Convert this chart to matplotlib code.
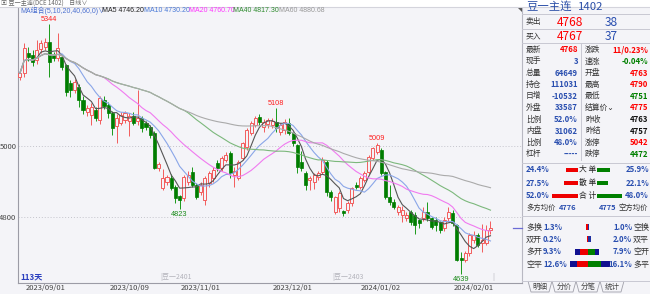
import numpy as np
import pandas as pd
import matplotlib
matplotlib.use('Agg')
import matplotlib.pyplot as plt
from matplotlib.patches import Rectangle, Polygon
from matplotlib.lines import Line2D

plt.rcParams['font.family'] = ['Noto Sans CJK SC', 'DejaVu Sans']
NARROW = ['Liberation Sans', 'Noto Sans CJK SC', 'DejaVu Sans']

# daily candles, 2023/08/24 .. 2024/02/07 (113 days)
opens = [5194, 5206, 5262, 5256, 5242, 5273, 5279, 5293, 5256, 5248,
         5251, 5228, 5178, 5158, 5166, 5130, 5096, 5087, 5101, 5073,
         5130, 5116, 5093, 5056, 5065, 5073, 5070, 5085, 5070, 5079,
         5065, 5054, 5037, 4938, 4882, 4899, 4910, 4885, 4859, 4854,
         4899, 4927, 4890, 4870, 4848, 4896, 4910, 4952, 4938, 4961,
         4980, 4918, 4910, 4966, 4997, 5037, 5059, 5082, 5054, 5062,
         5059, 5068, 5039, 5045, 5065, 5037, 5003, 4955, 4924, 4904,
         4899, 4913, 4927, 4955, 4870, 4814, 4825, 4817, 4820, 4839,
         4890, 4885, 4904, 4927, 4966, 4983, 4989, 4927, 4856, 4842,
         4814, 4806, 4797, 4814, 4806, 4792, 4797, 4814, 4797, 4792,
         4786, 4769, 4797, 4811, 4778, 4684, 4679, 4699, 4735, 4749,
         4727, 4727, 4763]
closes = [5206, 5276, 5251, 5237, 5270, 5290, 5293, 5237, 5248, 5276,
          5223, 5152, 5158, 5180, 5130, 5101, 5107, 5110, 5079, 5135,
          5113, 5093, 5051, 5079, 5087, 5093, 5085, 5065, 5079, 5051,
          5054, 5031, 4938, 4949, 4910, 4913, 4882, 4854, 4848, 4913,
          4918, 4890, 4856, 4890, 4910, 4924, 4932, 4938, 4966, 4975,
          4924, 4930, 4955, 5008, 5045, 5065, 5079, 5068, 5068, 5073,
          5070, 5051, 5059, 5068, 5037, 5008, 4941, 4938, 4890, 4910,
          4918, 4924, 4961, 4870, 4856, 4856, 4868, 4811, 4839, 4882,
          4885, 4910, 4924, 4969, 4994, 5003, 4924, 4856, 4842, 4828,
          4828, 4820, 4806, 4786, 4778, 4783, 4814, 4797, 4772, 4778,
          4763, 4792, 4814, 4783, 4679, 4679, 4699, 4749, 4749, 4721,
          4735, 4763, 4768]
highs = [5215, 5290, 5280, 5270, 5300, 5298, 5305, 5344, 5265, 5320,
         5258, 5232, 5185, 5190, 5175, 5140, 5115, 5120, 5110, 5140,
         5140, 5125, 5100, 5090, 5095, 5100, 5092, 5095, 5157, 5085,
         5070, 5060, 5042, 4955, 4935, 4918, 4920, 4890, 4862, 4918,
         4930, 4940, 4895, 4900, 4915, 4930, 4940, 4960, 4972, 4982,
         4985, 4940, 4960, 5012, 5050, 5070, 5085, 5090, 5075, 5080,
         5078, 5108, 5065, 5075, 5079, 5040, 5005, 4985, 4930, 4915,
         4925, 4930, 4970, 4960, 4875, 4860, 4872, 4820, 4845, 4886,
         4900, 4915, 4930, 4975, 4998, 5009, 4995, 4930, 4890, 4850,
         4835, 4832, 4815, 4820, 4815, 4795, 4828, 4842, 4800, 4800,
         4790, 4800, 4828, 4820, 4780, 4700, 4705, 4755, 4760, 4755,
         4780, 4778, 4790]
lows = [5185, 5195, 5240, 5225, 5232, 5262, 5270, 5195, 5240, 5240,
        5215, 5140, 5138, 5150, 5110, 5090, 5085, 5058, 5070, 5062,
        5105, 5080, 5031, 5010, 5058, 5065, 5028, 5058, 5060, 5040,
        5045, 5022, 4935, 4930, 4876, 4890, 4875, 4840, 4823, 4845,
        4890, 4885, 4850, 4862, 4835, 4885, 4900, 4930, 4930, 4955,
        4910, 4885, 4905, 4960, 4990, 5030, 5055, 5060, 5040, 5050,
        5050, 5040, 5030, 5035, 5030, 5000, 4925, 4930, 4875, 4876,
        4880, 4905, 4920, 4860, 4845, 4808, 4815, 4803, 4812, 4832,
        4878, 4880, 4898, 4920, 4960, 4978, 4918, 4850, 4835, 4822,
        4805, 4785, 4790, 4778, 4752, 4770, 4790, 4790, 4765, 4760,
        4755, 4760, 4790, 4775, 4675, 4639, 4672, 4690, 4728, 4715,
        4701, 4720, 4751]

tick_idx = [6, 26, 43, 65, 86, 108]
tick_labels = ['2023/09/01', '2023/10/09', '2023/11/01', '2023/12/01', '2024/01/02', '2024/02/01']
mark_hi = [7, 61, 85]
mark_lo = [38, 105]
roll_idx = [34, 75]
roll_names = ['豆一2401', '豆一2403']

ma_periods = [5, 10, 20, 40, 60]
ma_colors = ['#555555', '#8aa6e8', '#f07af0', '#7cb87c', '#aaaaaa']
legend_txt = ['MA组合(5,10,20,40,60,0)∨', 'MA5 4746.20', 'MA10 4730.20',
              'MA20 4760.70', 'MA40 4817.30', 'MA60 4880.68']
legend_col = ['#4a6fd0', '#222222', '#4a7ad8', '#ff33ff', '#2e8b2e', '#999999']
legend_x = [20, 102, 144, 189, 233, 279]

# quote panel
left_lab = ['最新', '现手', '总量', '持仓', '日增', '外盘', '比例', '内盘', '比例', '杠杆']
left_val = ['4768', '3', '64649', '111031', '-10532', '33587', '52.0%', '31062', '48.0%', '-----']
left_col = ['#ff0000'] + ['#2a4fb0'] * 9
right_lab = ['涨跌', '速涨', '开盘', '最高', '最低', '结算价⌄', '昨收', '昨结', '涨停', '跌停']
right_val = ['11/0.23%', '-0.04%', '4763', '4790', '4751', '4775', '4763', '4757', '5042', '4472']
right_col = ['#ff0000', '#008000', '#ff0000', '#ff0000', '#008000', '#ff0000',
             '#111111', '#111111', '#ff0000', '#008000']

order_lab = ['大 单', '散 单', '合 计']
order_buy = [24.4, 27.5, 52.0]
order_sell = [25.9, 22.1, 48.0]

pos_lab_l = ['多换', '双开', '多开', '空平']
pos_lab_r = ['空换', '双平', '空开', '多平']
pos_l = [1.3, 0.2, 9.3, 12.6]
pos_r = [1.0, 2.0, 7.9, 16.1]

tabs = ['明细', '分价', '分笔', '统计']

opens = np.array(opens, float)
closes = np.array(closes, float)
highs = np.array(highs, float)
lows = np.array(lows, float)
idx = np.arange(len(closes))

W, H = 650, 294
BG = '#f4f4f8'
fig = plt.figure(figsize=(6.5, 2.94), dpi=100, facecolor=BG)


def fx(x):
    return x / W


def fy(y):
    return 1 - y / H


def ptext(x, y, s, **kw):
    kw.setdefault('va', 'center')
    kw.setdefault('fontsize', 5.6)
    fig.text(fx(x), fy(y), s, **kw)


def pline(x0, y0, x1, y1, color='#c8c8d2', lw=0.7):
    fig.add_artist(Line2D([fx(x0), fx(x1)], [fy(y0), fy(y1)], transform=fig.transFigure,
                          color=color, lw=lw))


def prect(x, y, w, h, color):
    fig.add_artist(Rectangle((fx(x), fy(y + h)), w / W, h / H, transform=fig.transFigure,
                             facecolor=color, edgecolor='none'))


# top tool strip
prect(0, 0, 650, 6.5, '#ffffff')
pline(0, 6.8, 650, 6.8, '#d4d4dc', 0.8)
ptext(1, 3.3, '▣ 豆一主连(DCE 1402)    日线∨', color='#666666', fontsize=4.4)

# ---- main kline area
ax = fig.add_axes([fx(18), fy(283), fx(522) - fx(18), fy(7) - fy(283)])
ax.set_facecolor(BG)
ax.set_xlim(-0.47, 119.5)
ax.set_ylim(4614, 5392)

for lv in [5000, 4800]:
    ax.axhline(lv, color='#c4c4cc', lw=0.7, ls=(0, (1, 2)), zorder=0)

up = closes >= opens
red = '#f25c5c'
grn = '#007d00'
ax.vlines(idx[up], lows[up], highs[up], color=red, lw=0.7, zorder=2)
ax.vlines(idx[~up], lows[~up], highs[~up], color='#1a9a1a', lw=0.7, zorder=2)
body_lo = np.minimum(opens, closes)
body_h = np.maximum(np.abs(closes - opens), 1.5)
ax.bar(idx[up], body_h[up], bottom=body_lo[up], width=0.72, facecolor=BG,
       edgecolor=red, lw=0.7, zorder=3)
ax.bar(idx[~up], body_h[~up], bottom=body_lo[~up], width=0.72, facecolor=grn,
       edgecolor=grn, lw=0.5, zorder=3)

cs = pd.Series(closes)
for p, c in zip(ma_periods, ma_colors):
    ax.plot(idx, cs.rolling(p, min_periods=1).mean(), color=c, lw=0.8, zorder=4)

for i in mark_hi:
    ax.annotate(f'{int(highs[i])}', (i, highs[i]), xytext=(0, 0.8), textcoords='offset points',
                ha='center', va='bottom', color='#ff2020', fontsize=5.3, family=NARROW)
for i in mark_lo:
    ax.annotate(f'{int(lows[i])}', (i, lows[i]), xytext=(0, -1.2), textcoords='offset points',
                ha='center', va='top', color='#1a8a1a', fontsize=5.3, family=NARROW)

for i, nm in zip(roll_idx, roll_names):
    ax.text(i - 0.6, 4630, '|' + nm, color='#b4b4bc', fontsize=5.0, va='center', ha='left')
ax.text(len(closes) - 0.6, 4630, '|', color='#b4b4bc', fontsize=5.0, va='center', ha='left')
ax.text(0.0, 4632, '113天', color='#2a3fbf', fontsize=5.8, fontweight='bold', va='center')

# current price marker at the right edge
ax.plot([117.4, 119.5], [closes[-1], closes[-1]], color='#6b6bd6', lw=0.9, clip_on=False, zorder=5)

ax.set_yticks([4800, 5000])
ax.set_yticklabels(['4800', '5000'])
ax.set_xticks(tick_idx)
ax.set_xticklabels(tick_labels)
ax.tick_params(axis='both', length=0, labelsize=5.5, labelcolor='#444444')
ax.tick_params(axis='y', pad=1.2)
ax.tick_params(axis='x', pad=0.8)
ax.spines['top'].set_visible(False)
ax.spines['left'].set_color('#9c9ca6')
ax.spines['bottom'].set_color('#9c9ca6')
ax.spines['right'].set_color('#b8b8c2')
for sp in ax.spines.values():
    sp.set_linewidth(0.8)

for s, c, x in zip(legend_txt, legend_col, legend_x):
    ptext(x, 11, s, color=c, fontsize=5.0, family=NARROW)

# corner triangle
fig.add_artist(Polygon([(fx(518), fy(8)), (fx(522), fy(8)), (fx(522), fy(12))],
                       transform=fig.transFigure, facecolor='#555555', edgecolor='none'))

# ---- quote panel
ptext(526, 6.5, '豆一主连', color='#2b4fa8', fontsize=8.2)
ptext(578, 6.5, '1402', color='#2b4fa8', fontsize=8.2)
for y in [13.5, 29, 43, 163, 216, 280.5]:
    pline(522, y, 650, y)
pline(581, 43, 581, 160)

ptext(526, 22, '卖出', color='#333333')
ptext(583, 22, '4768', color='#ff0000', fontsize=8.6, ha='right')
ptext(605, 22, '38', color='#2a4fb0', fontsize=8.6)
ptext(526, 36, '买入', color='#333333')
ptext(583, 36, '4767', color='#ff0000', fontsize=8.6, ha='right')
ptext(605, 36, '37', color='#2a4fb0', fontsize=8.6)

for k in range(len(left_lab)):
    y = 50 + k * 11.6
    ptext(526, y, left_lab[k], color='#333333')
    ptext(578, y, left_val[k], color=left_col[k], ha='right', fontweight='bold')
    ptext(585, y, right_lab[k], color='#333333')
    ptext(648, y, right_val[k], color=right_col[k], ha='right', fontweight='bold')

# big / scatter orders
for k in range(3):
    y = 170 + k * 13
    ptext(526, y, f'{order_buy[k]:.1f}%', color='#2a4fb0', fontweight='bold')
    ptext(587.5, y, order_lab[k], color='#222222', ha='center')
    wb = order_buy[k] * 0.5
    ws = order_sell[k] * 0.52
    prect(578 - wb, y - 2.2, wb, 4.4, '#ee0000')
    prect(597, y - 2.2, ws, 4.4, '#008000')
    ptext(649, y, f'{order_sell[k]:.1f}%', color='#2a4fb0', ha='right', fontweight='bold')

ptext(526, 208, '多方均价', color='#333333', fontsize=5.3)
ptext(559, 208, '4776', color='#2a4fb0', fontweight='bold', fontsize=5.4)
ptext(616, 208, '4775', color='#2a4fb0', ha='right', fontweight='bold', fontsize=5.4)
ptext(618, 208, '空方均价', color='#333333', fontsize=5.3)

for k in range(4):
    y = 227 + k * 12.4
    ptext(526, y, pos_lab_l[k], color='#333333', fontsize=5.8)
    ptext(543, y, f'{pos_l[k]:.1f}%', color='#2a4fb0', fontweight='bold')
    ptext(632, y, f'{pos_r[k]:.1f}%', color='#2a4fb0', ha='right', fontweight='bold')
    ptext(633, y, pos_lab_r[k], color='#333333', fontsize=5.8)
    wl = max(pos_l[k] * 1.4, 1.2)
    wr = max(pos_r[k] * 1.35, 1.2)
    if wl > 4:
        prect(588 - wl, y - 3, wl * 0.38, 6, '#101090')
        prect(588 - wl * 0.62, y - 3, wl * 0.62, 6, '#ee0000')
    else:
        prect(588 - wl, y - 3, wl, 6, '#ee0000')
    if wr > 4:
        prect(588, y - 3, wr * 0.62, 6, '#008000')
        prect(588 + wr * 0.62, y - 3, wr * 0.38, 6, '#101090')
    else:
        prect(588, y - 3, wr, 6, '#2030a0')

# bottom tabs
for k, t in enumerate(tabs):
    x0 = 528 + k * 24
    fig.add_artist(Polygon([(fx(x0), fy(281)), (fx(x0 + 3), fy(292)), (fx(x0 + 21), fy(292)),
                            (fx(x0 + 24), fy(281))], closed=False, transform=fig.transFigure,
                           facecolor='none', edgecolor='#a0a0aa', lw=0.6))
    ptext(x0 + 12, 286.5, t, color='#444444', fontsize=5.4, ha='center')

fig.savefig('out.png', dpi=100, facecolor=BG)
